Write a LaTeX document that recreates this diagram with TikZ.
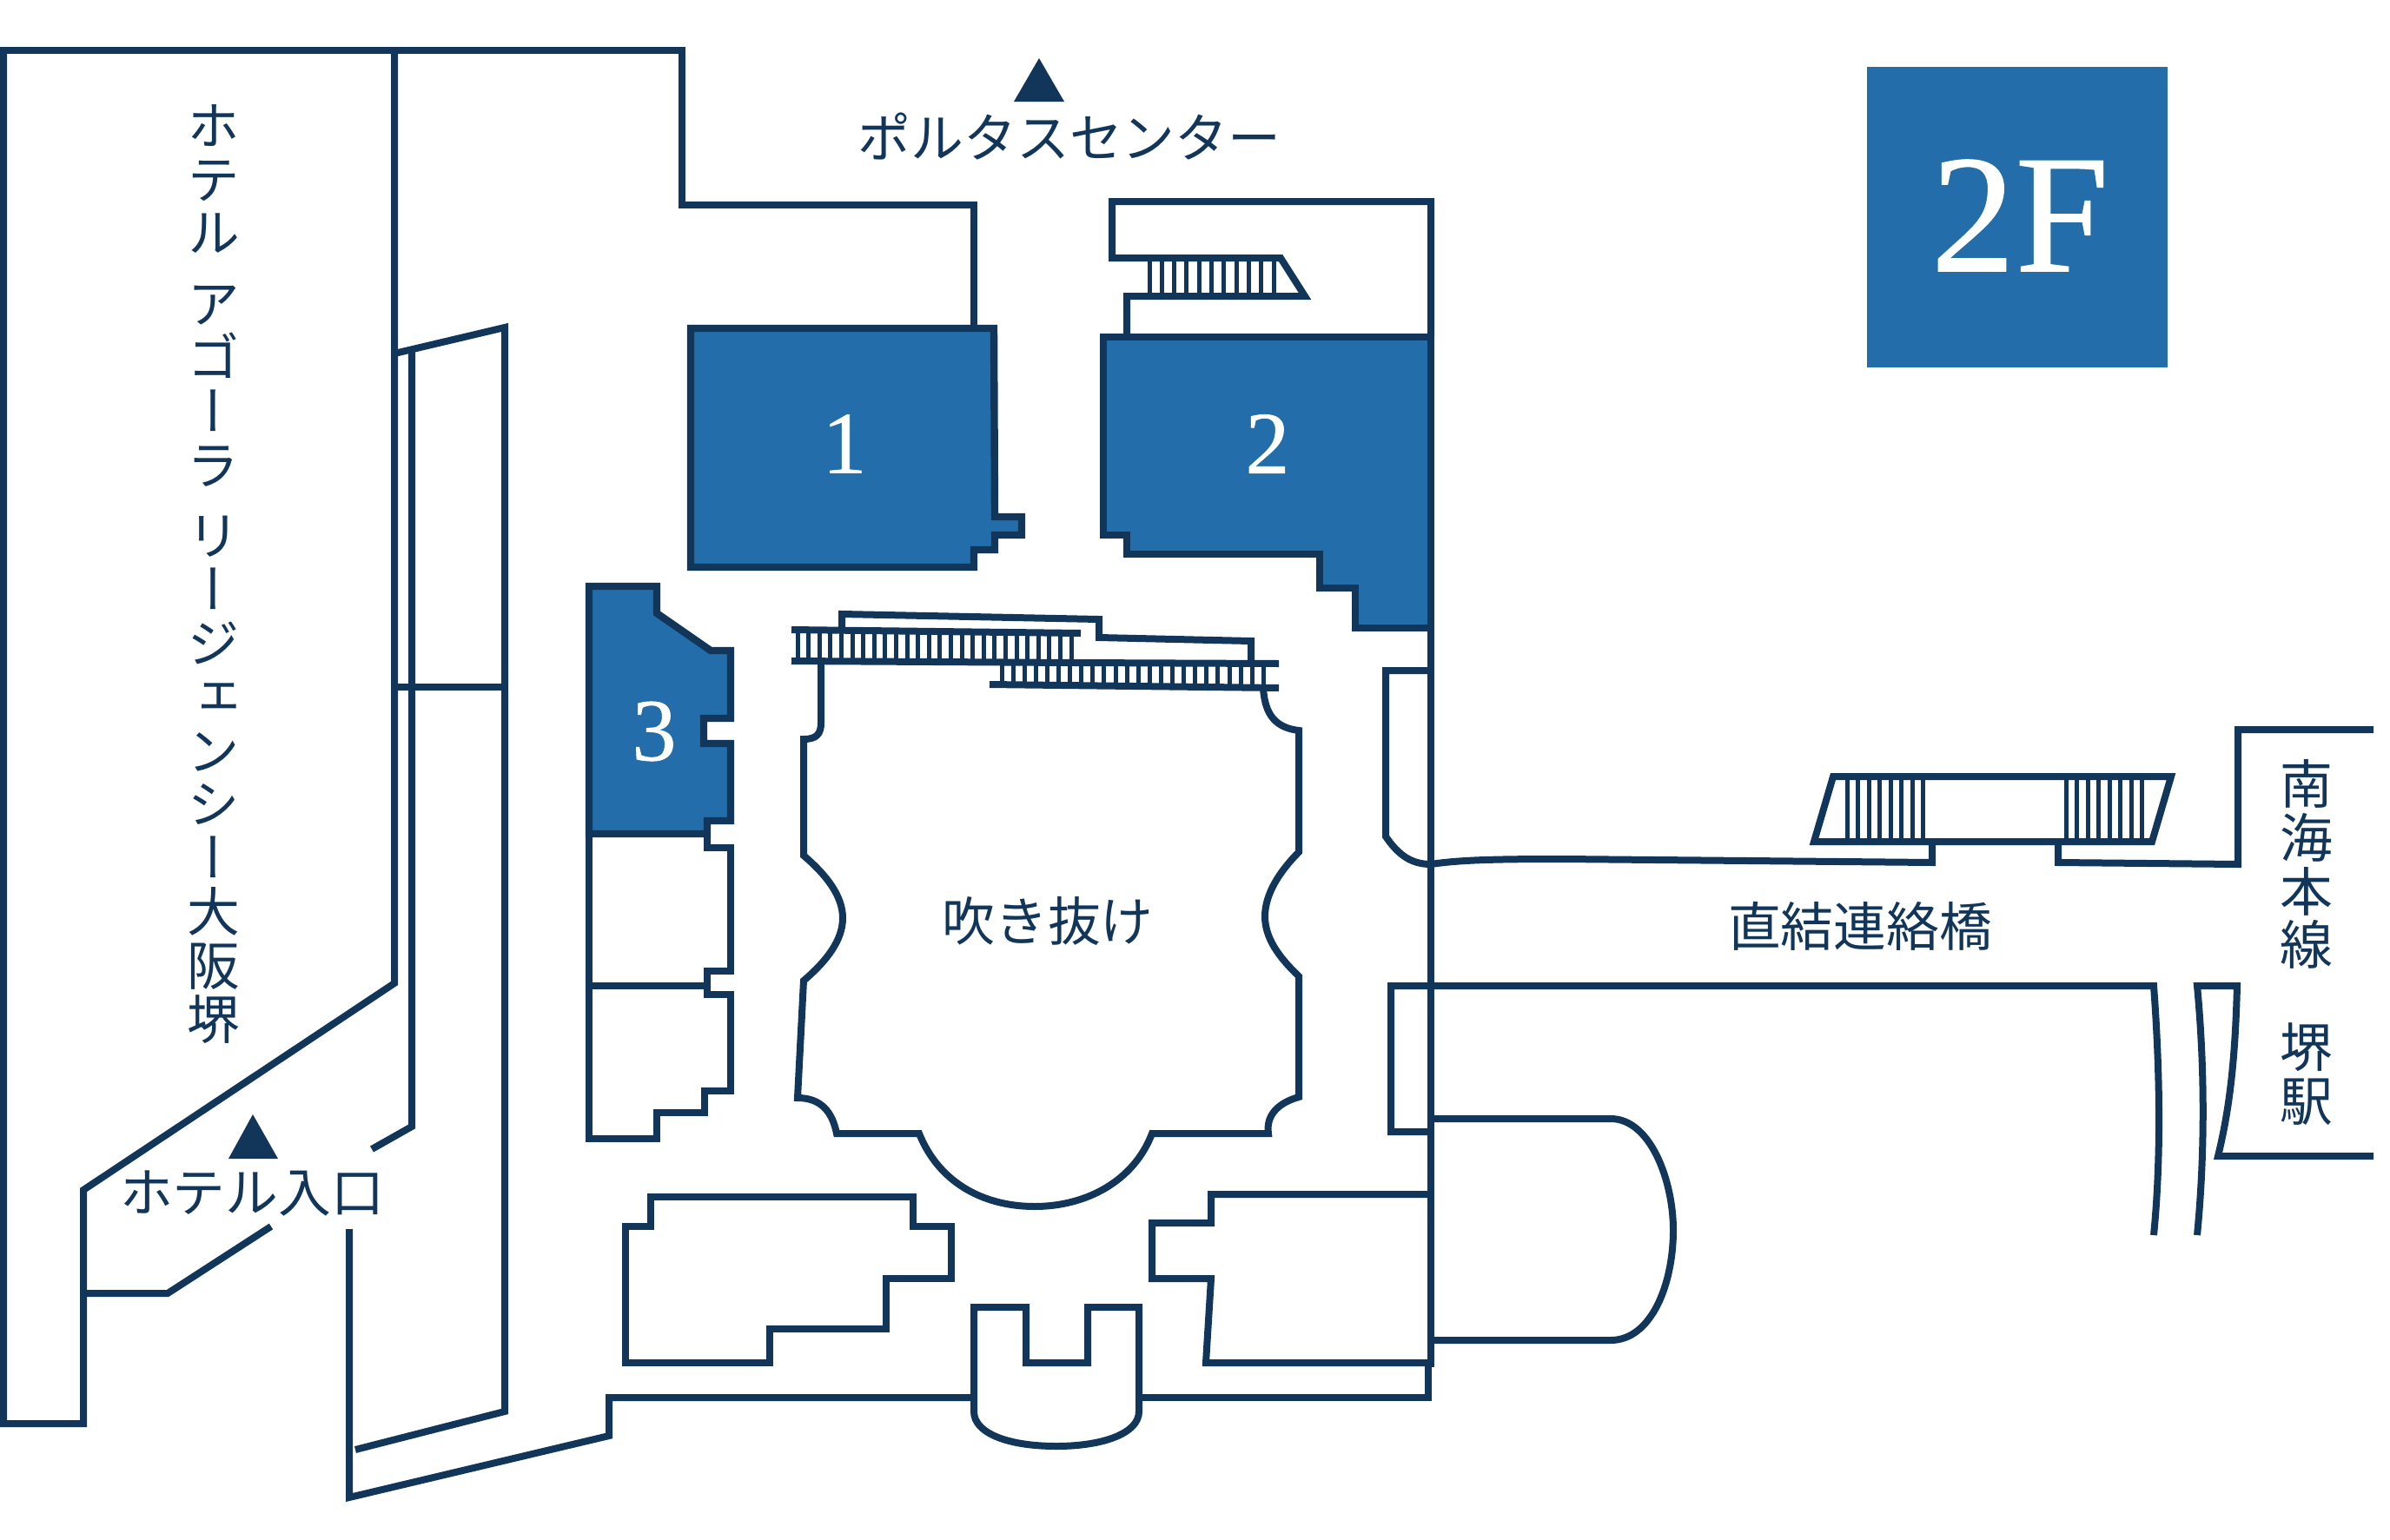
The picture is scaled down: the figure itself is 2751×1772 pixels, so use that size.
\documentclass[tikz,border=0pt]{standalone}
\usepackage{fontspec}
\newfontfamily\cjk{Noto Sans CJK JP}
\newfontfamily\cjkv[RawFeature=+vert]{Noto Sans CJK JP}
\newfontfamily\numfont[FakeBold=0.6]{Liberation Serif}
\definecolor{navy}{HTML}{11365A}
\definecolor{roomblue}{HTML}{236EAA}
\tikzset{
  wall/.style={draw=navy,line width=4pt,miter limit=10},
  room/.style={wall,fill=roomblue,line width=4.2pt},
  tread/.style={draw=navy,line width=2.5pt},
  marker/.style={fill=navy,draw=none},
  label/.style={text=navy,inner sep=0pt,font=\cjk\fontsize{30.4}{31}\selectfont},
  vlabel/.style={text=navy,inner sep=0pt,align=center,font=\cjkv\fontsize{30.4}{30.9}\selectfont},
  num/.style={text=white,inner sep=0pt,font=\numfont\fontsize{51}{51}\selectfont},
}
\begin{document}
\begin{tikzpicture}[x=0.5pt,y=-0.5pt]
\useasboundingbox (0,0) rectangle (2751,1772);
% hotel block
\draw[wall] (-10,58) -- (785,58) -- (785,236) -- (1121,236) -- (1121,378);
\draw[wall] (4,58) -- (4,1639) -- (96,1639) -- (96,1370) -- (454,1132) -- (454,58);
\draw[wall] (96,1489) -- (193,1489) -- (312,1412);
\draw[wall] (454,407) -- (581,377) -- (581,1625) -- (409,1669);
\draw[wall] (474,404) -- (474,1297) -- (428,1323);
\draw[wall] (454,791) -- (581,791);
\draw[wall] (402,1415) -- (402,1724) -- (701,1653) -- (701,1609) -- (1121,1609);
\draw[wall] (1311,1609) -- (1644,1609) -- (1644,1570);
% lower rooms
\draw[wall] (749,1378) -- (1051,1378) -- (1051,1412) -- (1095,1412) -- (1095,1472) -- (1020,1472) -- (1020,1530) -- (886,1530) -- (886,1569) -- (720,1569) -- (720,1412) -- (749,1412) -- cycle;
\draw[wall] (1647,1375) -- (1394,1375) -- (1394,1408) -- (1326,1408) -- (1326,1472) -- (1394,1472) -- (1388,1569) -- (1647,1569);
\draw[wall] (1121,1625) -- (1121,1505) -- (1181,1505) -- (1181,1569) -- (1252,1569) -- (1252,1505) -- (1311,1505) -- (1311,1625) .. controls (1311,1650) and (1270,1665) .. (1216,1665) .. controls (1160,1665) and (1121,1650) .. (1121,1625) -- cycle;
% capsule
\draw[wall] (1647,1288) -- (1854,1288) .. controls (1900,1288) and (1926,1360) .. (1926,1416) .. controls (1926,1480) and (1900,1543) .. (1854,1543) -- (1647,1543);
% upper right block and stair
\draw[wall] (1647,388) -- (1647,232) -- (1280,232) -- (1280,297) -- (1474,297) -- (1502,341) -- (1297,341) -- (1297,388);
\foreach \bx in {1323,1337.3,...,1468} \draw[tread] (\bx,297) -- (\bx,341);
% tenant rooms
\draw[room] (795,378) -- (1144,378) -- (1145,595) -- (1176,595) -- (1176,616) -- (1145,616) -- (1145,633) -- (1121,633) -- (1121,653) -- (795,653) -- cycle;
\draw[room] (1270,388) -- (1647,388) -- (1647,723) -- (1560,723) -- (1560,677) -- (1519,677) -- (1519,638) -- (1297,638) -- (1297,616) -- (1270,616) -- cycle;
\draw[room] (678,675) -- (756,675) -- (756,706) -- (818,749) -- (841,749) -- (841,827) -- (810,827) -- (810,856) -- (841,856) -- (841,945) -- (814,945) -- (814,960) -- (678,960) -- cycle;
\draw[wall] (814,960) -- (814,976) -- (841,976) -- (841,1118) -- (814,1118) -- (814,1145) -- (841,1145) -- (841,1256) -- (811,1256) -- (811,1281) -- (756,1281) -- (756,1311) -- (678,1311) -- (678,960);
\draw[wall] (678,1135) -- (814,1135);
% atrium
\draw[wall] (945,763) -- (945,832) .. controls (945,845) and (940,851) .. (925,851) -- (925,985) .. controls (952,1008) and (970,1032) .. (970,1057) .. controls (970,1082) and (952,1106) .. (925,1129) -- (918,1264) .. controls (945,1264) and (958,1280) .. (963,1305) -- (1058,1305) .. controls (1080,1360) and (1130,1389) .. (1191,1389) .. controls (1250,1389) and (1305,1360) .. (1326,1305) -- (1460,1305) .. controls (1457,1285) and (1470,1270) .. (1495,1263) -- (1495,1124) .. controls (1472,1102) and (1456,1080) .. (1456,1055) .. controls (1456,1030) and (1472,1004) .. (1495,981) -- (1495,841) .. controls (1470,838) and (1456,825) .. (1454,792);
% atrium stairs
\draw[wall] (969,725) -- (969,707) -- (1265,713) -- (1265,734) -- (1440,738) -- (1440,762);
\draw[wall] (911,725) -- (1244,729);
\draw[wall] (911,761) -- (1238,763) -- (1472,764);
\draw[wall] (1139,788) -- (1472,792);
\foreach \bx in {918,930.6,...,1235} \draw[tread] (\bx,726) -- (\bx,762);
\foreach \bx in {1153,1166.1,...,1458} \draw[tread] (\bx,763) -- (\bx,790);
% side corridor and bridge
\draw[wall] (1647,772) -- (1595,772) -- (1595,963) .. controls (1610,985) and (1625,995) .. (1647,995) .. controls (1680,990) and (1720,989) .. (1800,989) -- (2224,993) -- (2224,969);
\draw[wall] (1647,1303) -- (1601,1303) -- (1601,1135) -- (2479,1135) .. controls (2486,1230) and (2488,1330) .. (2479,1422);
\draw[wall] (2529,1422) .. controls (2538,1330) and (2538,1230) .. (2529,1135) -- (2575,1135) .. controls (2573,1210) and (2568,1270) .. (2553,1331) -- (2732,1331);
\draw[wall] (2369,969) -- (2369,993) -- (2576,995) -- (2576,840) -- (2732,840);
\draw[wall] (2088,969) -- (2110,894) -- (2499,894) -- (2477,969) -- cycle;
\foreach \bx in {2126,2138.5,...,2215} \draw[tread] (\bx,894) -- (\bx,969);
\foreach \bx in {2378,2390.5,...,2466} \draw[tread] (\bx,894) -- (\bx,969);
% main wall drawn last
\draw[wall] (1647,232) -- (1647,1574);
% floor sign
\fill[roomblue] (2149,77) rectangle (2495,423);
\node[text=white,inner sep=0pt,font=\numfont\fontsize{97}{97}\selectfont] (floor) at (2325,248) {2F};
% triangles
\fill[marker] (1196,67) -- (1225,117) -- (1167,117) -- cycle;
\fill[marker] (291,1283) -- (320,1334) -- (263,1334) -- cycle;
% labels
\node[num] (n1) at (972,511) {1};
\node[num] (n2) at (1459,511) {2};
\node[num] (n3) at (753,842) {3};
\node[label] (porta) at (1231,157) {ポルタスセンター};
\node[label] (atrium) at (1206,1060) {吹き抜け};
\node[label] (bridge) at (2141,1066) {直結連絡橋};
\node[label] (entry) at (290,1374) {ホテル入口};
\node[vlabel,anchor=north] (hotel) at (246,120) {ホ\\テ\\ル\\[10pt]ア\\ゴ\\ー\\ラ\\[10pt]リ\\ー\\ジ\\ェ\\ン\\シ\\ー\\大\\阪\\堺};
\node[vlabel,anchor=north] (station) at (2655,874) {南\\海\\本\\線\\[28pt]堺\\駅};
\end{tikzpicture}
\end{document}
